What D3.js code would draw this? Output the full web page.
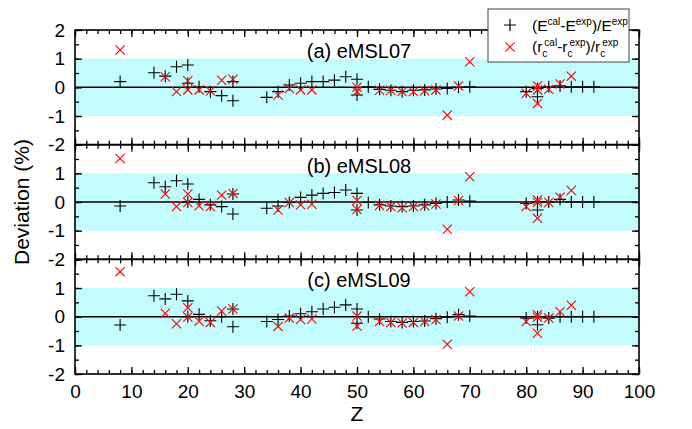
<!DOCTYPE html>
<html lang="en">
<head>
<meta charset="UTF-8">
<script src="https://d3js.org/d3.v7.min.js"></script>
<title>Deviation</title>
<style>
  body { margin: 0; background: #fff; }
  text { font-family: "Liberation Sans", Arial, sans-serif; fill: #000; }
  .tick line { stroke: #000; stroke-width: 1.3px; }
  .domain { display: none; }
</style>
</head>
<body>
<div id="chart"></div>
<script>
// panel names
var panels = ["(a) eMSL07", "(b) eMSL08", "(c) eMSL09"];

// Z for the energy deviations (black +)
var zE = [8,14,16,18,20,20,22,24,26,28,28,34,36,38,40,42,44,46,48,50,50,52,54,56,58,60,62,64,66,68,70,80,82,82,84,86,88,90,92];
var eA = [0.20,0.51,0.39,0.72,0.78,0.14,0.02,-0.15,-0.29,0.20,-0.47,-0.35,-0.15,0.08,0.14,0.20,0.20,0.25,0.37,0.28,-0.27,0.02,-0.07,-0.10,-0.15,-0.10,-0.09,-0.06,-0.04,0.00,0.02,-0.15,-0.04,-0.33,0.02,0.05,0.02,0.02,0.02];
var eB = [-0.14,0.67,0.53,0.74,0.63,0.00,0.09,-0.10,-0.16,0.28,-0.42,-0.22,-0.14,-0.02,0.16,0.24,0.30,0.33,0.42,0.30,-0.28,-0.02,-0.10,-0.14,-0.16,-0.14,-0.10,-0.05,0.00,0.07,0.03,-0.05,0.00,-0.28,0.00,0.09,0.00,0.00,0.00];
var eC = [-0.29,0.73,0.62,0.78,0.55,0.00,0.08,-0.14,0.00,0.27,-0.35,-0.17,-0.10,0.02,0.10,0.17,0.27,0.33,0.41,0.27,-0.23,0.00,-0.08,-0.17,-0.20,-0.17,-0.15,-0.07,-0.02,0.07,0.02,-0.05,0.00,-0.28,-0.05,0.00,0.00,0.00,0.00];

// Z for the charge radius deviations (red x)
var zR = [8,16,18,20,20,22,24,26,28,36,38,40,42,50,50,54,56,58,60,62,64,66,68,70,80,82,82,82,84,86,88];
var rA = [1.30,0.37,-0.15,0.23,-0.09,-0.09,-0.13,0.25,0.28,-0.27,-0.04,-0.09,-0.09,0.00,-0.15,-0.10,-0.10,-0.15,-0.15,-0.12,-0.09,-0.97,0.05,0.89,-0.21,0.05,-0.09,-0.56,-0.07,0.12,0.39];
var rB = [1.52,0.28,-0.16,0.28,-0.02,-0.13,-0.16,0.24,0.30,-0.28,-0.02,-0.10,-0.08,0.05,-0.26,-0.12,-0.16,-0.20,-0.16,-0.13,-0.07,-0.95,0.05,0.88,-0.16,0.07,-0.02,-0.57,-0.02,0.17,0.40];
var rC = [1.57,0.12,-0.25,0.31,-0.01,-0.16,-0.20,0.20,0.27,-0.34,-0.05,-0.10,-0.08,0.02,-0.33,-0.17,-0.20,-0.22,-0.20,-0.17,-0.10,-0.96,0.02,0.87,-0.17,0.07,-0.02,-0.58,-0.05,0.17,0.40];

var eSets = [eA, eB, eC];
var rSets = [rA, rB, rC];

var W = 692, H = 429;
var mL = 75, mR = 639, mT = 30, mB = 374;
var ph = (mB - mT) / 3;

var svg = d3.select("#chart").append("svg")
    .attr("width", W).attr("height", H);

var x = d3.scaleLinear().domain([0, 100]).range([mL, mR]);

var plusPath = "M-6,0H6M0,-6V6";
var crossPath = "M-4.6,-4.6L4.6,4.6M-4.6,4.6L4.6,-4.6";

panels.forEach(function(name, i) {
  var y0 = mT + i * ph;
  var y = d3.scaleLinear().domain([-2, 2]).range([y0 + ph, y0]);
  var g = svg.append("g");

  // band between -1 and 1
  g.append("rect")
    .attr("x", mL).attr("width", mR - mL)
    .attr("y", y(1)).attr("height", y(-1) - y(1))
    .attr("fill", "#c2fcfc");

  // zero line
  g.append("line")
    .attr("x1", mL).attr("x2", mR)
    .attr("y1", y(0)).attr("y2", y(0))
    .attr("stroke", "#000").attr("stroke-width", 1.5);

  // inward ticks on all sides
  var xMaj = d3.range(0, 101, 10), xMin = d3.range(0, 101, 2);
  var yMaj = d3.range(-2, 2.01, 1), yMin = d3.range(-2, 2.01, 0.5);
  [[xMin, 4], [xMaj, 7]].forEach(function(t) {
    g.append("g").attr("transform", "translate(0," + (y0 + ph) + ")")
      .call(d3.axisBottom(x).tickValues(t[0]).tickSize(-t[1]).tickFormat(""));
    g.append("g").attr("transform", "translate(0," + y0 + ")")
      .call(d3.axisTop(x).tickValues(t[0]).tickSize(-t[1]).tickFormat(""));
  });
  [[yMin, 4], [yMaj, 7]].forEach(function(t) {
    g.append("g").attr("transform", "translate(" + mL + ",0)")
      .call(d3.axisLeft(y).tickValues(t[0]).tickSize(-t[1]).tickFormat(""));
    g.append("g").attr("transform", "translate(" + mR + ",0)")
      .call(d3.axisRight(y).tickValues(t[0]).tickSize(-t[1]).tickFormat(""));
  });

  // y tick labels
  var labs = i === 0 ? [2, 1, 0, -1, -2] : [1, 0, -1, -2];
  g.append("g").attr("transform", "translate(" + mL + ",0)")
    .call(d3.axisLeft(y).tickValues(labs).tickSize(0).tickPadding(10)
      .tickFormat(function(d) { return String(d); }))
    .selectAll("text").style("font-size", "19px")
    .style("font-family", '"Liberation Sans", Arial, sans-serif');

  // frame
  g.append("rect")
    .attr("x", mL).attr("y", y0)
    .attr("width", mR - mL).attr("height", ph)
    .attr("fill", "none").attr("stroke", "#000").attr("stroke-width", 1.6);

  // panel title
  g.append("text")
    .attr("x", 359).attr("y", y0 + 28)
    .attr("text-anchor", "middle")
    .style("font-size", "20px")
    .text(name);

  // black plus markers
  g.selectAll(".e").data(zE.map(function(z, k) { return [z, eSets[i][k]]; }))
    .enter().append("path")
    .attr("transform", function(d) { return "translate(" + x(d[0]) + "," + y(d[1]) + ")"; })
    .attr("d", plusPath)
    .attr("stroke", "#000").attr("stroke-width", 1.1).attr("fill", "none");

  // red x markers
  g.selectAll(".r").data(zR.map(function(z, k) { return [z, rSets[i][k]]; }))
    .enter().append("path")
    .attr("transform", function(d) { return "translate(" + x(d[0]) + "," + y(d[1]) + ")"; })
    .attr("d", crossPath)
    .attr("stroke", "#ff0000").attr("stroke-width", 1.1).attr("fill", "none");
});

// x tick labels under the last panel
svg.append("g").attr("transform", "translate(0," + mB + ")")
  .call(d3.axisBottom(x).tickValues(d3.range(0, 101, 10)).tickSize(0).tickPadding(11))
  .selectAll("text").style("font-size", "19px")
  .style("font-family", '"Liberation Sans", Arial, sans-serif');

// axis titles
svg.append("text")
  .attr("x", (mL + mR) / 2).attr("y", 421)
  .attr("text-anchor", "middle").style("font-size", "21px").text("Z");

svg.append("text")
  .attr("transform", "translate(29," + (mT + mB) / 2 + ") rotate(-90)")
  .attr("text-anchor", "middle").style("font-size", "21px").text("Deviation (%)");

// legend
var lg = svg.append("g");
lg.append("rect")
  .attr("x", 488).attr("y", 9).attr("width", 141).attr("height", 53)
  .attr("fill", "#fff").attr("stroke", "#444").attr("stroke-width", 1);
lg.append("path").attr("transform", "translate(510,25)").attr("d", plusPath)
  .attr("stroke", "#000").attr("stroke-width", 1.2);
lg.append("path").attr("transform", "translate(510,47)").attr("d", crossPath)
  .attr("stroke", "#ff0000").attr("stroke-width", 1.1);

var t1 = lg.append("text").attr("x", 532).attr("y", 31).style("font-size", "15.5px");
t1.append("tspan").text("(E");
t1.append("tspan").attr("dy", -6).style("font-size", "10px").text("cal");
t1.append("tspan").attr("dy", 6).text("-E");
t1.append("tspan").attr("dy", -6).style("font-size", "10px").text("exp");
t1.append("tspan").attr("dy", 6).text(")/E");
t1.append("tspan").attr("dy", -6).style("font-size", "10px").text("exp");

var t2 = lg.append("text").attr("x", 532).attr("y", 52).style("font-size", "15.5px");
t2.append("tspan").text("(r");
t2.append("tspan").attr("dy", 5).style("font-size", "10px").text("c");
t2.append("tspan").attr("dx", -3).attr("dy", -11).style("font-size", "10px").text("cal");
t2.append("tspan").attr("dy", 6).text("-r");
t2.append("tspan").attr("dy", 5).style("font-size", "10px").text("c");
t2.append("tspan").attr("dx", -3).attr("dy", -11).style("font-size", "10px").text("exp");
t2.append("tspan").attr("dy", 6).text(")/r");
t2.append("tspan").attr("dy", 5).style("font-size", "10px").text("c");
t2.append("tspan").attr("dx", -3).attr("dy", -11).style("font-size", "10px").text("exp");
</script>
</body>
</html>
